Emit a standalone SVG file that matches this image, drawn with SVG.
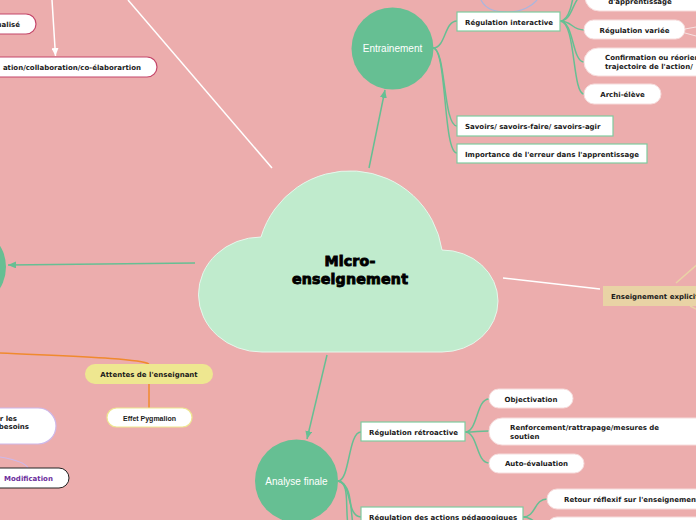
<svg xmlns="http://www.w3.org/2000/svg" width="696" height="520" viewBox="0 0 696 520">
<style>
.bg{fill:#ECADAD}
.circ{fill:#66BF93}
.ctext{font-family:"Liberation Sans",Arial,sans-serif;font-size:10px;fill:#ffffff;text-anchor:middle}
.lbl{font-family:"DejaVu Sans",Verdana,sans-serif;font-size:7px;font-weight:bold;fill:#1a1a1a}
.mid{text-anchor:middle}
.end{text-anchor:end}
.gbox{fill:#ffffff;stroke:#7FCB9F;stroke-width:1.2}
.pill{fill:#ffffff;stroke:#F6DCDC;stroke-width:1}
.redpill{fill:#ffffff;stroke:#C4466A;stroke-width:1.2}
.g{fill:none;stroke:#66BF93;stroke-width:1.5}
.w{fill:none;stroke:#ffffff;stroke-width:1.5}
.big{font-family:"DejaVu Sans",Verdana,sans-serif;font-size:14.2px;font-weight:bold;fill:#000;stroke:#000;stroke-width:0.9;text-anchor:middle;letter-spacing:0.2px}
</style>
<defs>
<marker id="ag" viewBox="0 0 8 7" refX="8" refY="3.5" markerWidth="8" markerHeight="7" markerUnits="userSpaceOnUse" orient="auto"><path d="M0,0 L8,3.5 L0,7 z" fill="#66BF93"/></marker>
<marker id="aw" viewBox="0 0 8 7" refX="8" refY="3.5" markerWidth="8" markerHeight="7" markerUnits="userSpaceOnUse" orient="auto"><path d="M0,0 L8,3.5 L0,7 z" fill="#ffffff"/></marker>
</defs>
<rect class="bg" x="0" y="0" width="696" height="520"/>

<g id="connectors">
<path class="w" d="M272 168 L128 0"/>
<path class="w" d="M52 0 L55.5 56" marker-end="url(#aw)"/>
<path class="g" d="M369 168 L385 90" marker-end="url(#ag)"/>
<path class="g" d="M195 263 L8 265" marker-end="url(#ag)"/>
<path class="g" d="M327 355 L307 439" marker-end="url(#ag)"/>
<path class="w" d="M503 278 L600 289"/>
<path d="M676 283 L700 262 M690 306 L700 311" fill="none" stroke="#E9D3A5" stroke-width="1.5"/>
<path d="M481 0 C486 10 496 12 508 12 C522 12 532 6 537 0" fill="none" stroke="#A8B6DE" stroke-width="1.2"/>
<path d="M685 29 L696 27 M685 33 L696 36" fill="none" stroke="#F6E2E2" stroke-width="1"/>
<path class="g" d="M433 48 C446 48 444 21 457 21"/>
<path class="g" d="M433 48 C446 48 443 126 457 126"/>
<path class="g" d="M433 48 C447 48 443 153 457 153"/>
<path class="g" d="M560 21 C574 21 572 -5 585 -5"/>
<path class="g" d="M560 21 C574 21 574 -20 580 -40"/>
<path class="g" d="M560 21 C572 21 572 30 584 30"/>
<path class="g" d="M560 21 C574 21 572 62 584 62"/>
<path class="g" d="M560 21 C576 21 572 94 584 94"/>
<path class="g" d="M338 481 C350 481 348 432 361 432"/>
<path class="g" d="M338 481 C352 481 346 517 361 517"/>
<path class="g" d="M338 481 C350 483 345 505 348 525"/>
<path class="g" d="M338 481 C352 485 350 505 353 525"/>
<path class="g" d="M465 432 C478 432 476 399 489 399"/>
<path class="g" d="M465 432 C477 432 477 431 489 431"/>
<path class="g" d="M465 432 C478 432 476 463 489 463"/>
<path class="g" d="M523 517 C536 517 534 499 547 499"/>
<path class="g" d="M523 517 C535 517 535 527 547 527"/>
<path d="M0 353 C60 356 140 358 149 364 M149 384 L149 408" fill="none" stroke="#F08A2E" stroke-width="1.5"/>
<path d="M0 457 C12 459 25 462 28 468" fill="none" stroke="#CDB8EA" stroke-width="1.2"/>
</g>

<g id="central">
<path d="M261 237 A93 93 0 0 1 442 250 A56 51 0 0 1 442 352 L262 352 A63 57.5 0 0 1 261 237 Z" fill="#C0EBCD" stroke="#E6F7EC" stroke-width="1"/>
<text class="big" x="350" y="266">Micro-</text>
<text class="big" x="350" y="283.5">enseignement</text>
</g>

<g id="entrainement">
<circle class="circ" cx="392.5" cy="48.5" r="41"/>
<text class="ctext" x="392.5" y="52">Entrainement</text>
</g>
<g id="left-circle"><circle class="circ" cx="-35" cy="267" r="41"/></g>
<g id="analyse-finale">
<circle class="circ" cx="296.5" cy="481" r="41.5"/>
<text class="ctext" x="296.5" y="484.5">Analyse finale</text>
</g>

<g id="regulation-interactive"><rect class="gbox" x="457" y="12" width="103" height="19"/><text class="lbl" x="465" y="24.5">Régulation interactive</text></g>
<g id="savoirs"><rect class="gbox" x="457" y="116" width="156" height="20"/><text class="lbl" x="465" y="129">Savoirs/ savoirs-faire/ savoirs-agir</text></g>
<g id="importance"><rect class="gbox" x="457" y="144" width="190" height="19"/><text class="lbl" x="465" y="156.5">Importance de l'erreur dans l'apprentissage</text></g>

<g id="apprentissage"><rect class="pill" x="585" y="-22" width="135" height="33" rx="14"/><text class="lbl mid" x="640" y="4">d'apprentissage</text></g>
<g id="regulation-variee"><rect class="pill" x="584" y="20" width="101" height="19" rx="9.5"/><text class="lbl mid" x="634.5" y="32.5">Régulation variée</text></g>
<g id="confirmation"><rect class="pill" x="584" y="48" width="140" height="28" rx="14"/><text class="lbl" x="605" y="60">Confirmation ou réorientation</text><text class="lbl" x="605" y="68.5">trajectoire de l'action/</text></g>
<g id="archi-eleve"><rect class="pill" x="584" y="84" width="77" height="20" rx="10"/><text class="lbl mid" x="622.5" y="96.5">Archi-élève</text></g>

<g id="enseignement-explicite"><rect x="603" y="286" width="110" height="20" fill="#E9D3A5"/><text class="lbl" x="611" y="298.5">Enseignement explicite</text></g>

<g id="regulation-retroactive"><rect class="gbox" x="361" y="422" width="104" height="19"/><text class="lbl" x="369" y="434.5">Régulation rétroactive</text></g>
<g id="regulation-pedagogiques"><rect class="gbox" x="361" y="507" width="162" height="20"/><text class="lbl" x="369" y="519.5">Régulation des actions pédagogiques</text></g>
<g id="objectivation"><rect class="pill" x="489" y="389" width="84" height="19" rx="9.5"/><text class="lbl mid" x="531" y="401.5">Objectivation</text></g>
<g id="renforcement"><rect class="pill" x="489" y="418" width="230" height="27" rx="13"/><text class="lbl" x="510" y="430">Renforcement/rattrapage/mesures de</text><text class="lbl" x="510" y="438.5">soutien</text></g>
<g id="auto-evaluation"><rect class="pill" x="489" y="454" width="95" height="19" rx="9.5"/><text class="lbl mid" x="536.5" y="466">Auto-évaluation</text></g>
<g id="retour-reflexif"><rect class="pill" x="547" y="489" width="170" height="20" rx="10"/><text class="lbl" x="564" y="501.5">Retour réflexif sur l'enseignement</text></g>
<g id="pill-bottom"><rect class="pill" x="547" y="517" width="170" height="20" rx="10"/></g>

<g id="attentes"><rect x="85" y="364" width="128" height="20" rx="10" fill="#EEE790"/><text class="lbl mid" x="149" y="377">Attentes de l'enseignant</text></g>
<g id="pygmalion"><rect x="107" y="408" width="85" height="19" rx="9.5" fill="#ffffff" stroke="#EEE790" stroke-width="1.2"/><text x="149.5" y="420.5" text-anchor="middle" font-family="Liberation Sans,Arial,sans-serif" font-size="7" font-weight="bold" fill="#1a1a1a">Effet Pygmalion</text></g>
<g id="besoins"><rect x="-40" y="408" width="96" height="36" rx="18" fill="#ffffff" stroke="#CDB8EA" stroke-width="1.2"/><text class="lbl end" x="17" y="421">r les</text><text class="lbl end" x="29" y="429">besoins</text></g>
<g id="modification"><rect x="-20" y="468" width="89" height="20" rx="10" fill="#ffffff" stroke="#222222" stroke-width="1"/><text class="lbl mid" x="28.5" y="480.5" style="fill:#6B2C9B">Modification</text></g>
<g id="individualise"><rect class="redpill" x="-40" y="14" width="76" height="20" rx="10"/><text class="lbl end" x="20" y="27">ualisé</text></g>
<g id="cooperation"><rect class="redpill" x="-40" y="57" width="197" height="20" rx="10"/><text class="lbl end" x="141" y="70">ation/collaboration/co-élaborartion</text></g>
</svg>
